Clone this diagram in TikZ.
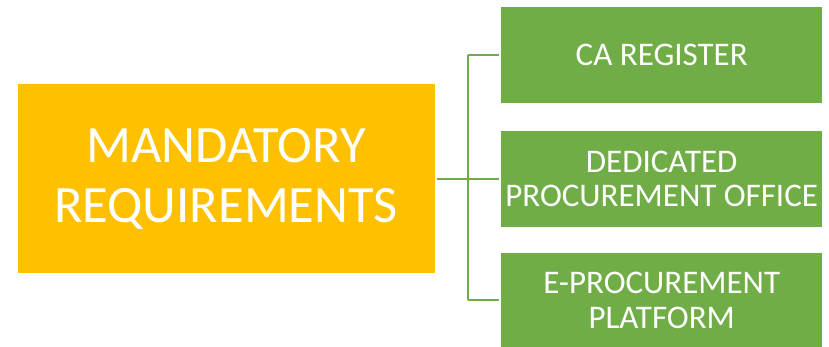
\documentclass[tikz,border=0pt]{standalone}
\usepackage{fontspec}
\setmainfont{Carlito}
\definecolor{orangebox}{HTML}{FFC000}
\definecolor{greenbox}{HTML}{70AD47}
\begin{document}
\begin{tikzpicture}[x=1pt,y=-1pt,
  mainbox/.style={rectangle, fill=orangebox, text=white, inner sep=0pt, align=center,
    minimum width=417pt, minimum height=188.7pt, font=\fontsize{52.5}{60}\selectfont},
  subbox/.style={rectangle, fill=greenbox, text=white, inner sep=0pt, align=center,
    minimum width=321.3pt, minimum height=96pt, font=\fontsize{33}{34.5}\selectfont},
  link/.style={draw=greenbox, line width=2pt}]
\useasboundingbox (0,0) rectangle (829,347);
\node[mainbox] (main) at (226.1,178.7) {MANDATORY\\REQUIREMENTS};
\node[subbox] (ca) at (661.7,55.3) {CA REGISTER};
\node[subbox] (dpo) at (661.7,178.7) {DEDICATED\\PROCUREMENT OFFICE};
\node[subbox, minimum height=93.7pt] (ep) at (661.7,300.2) {E-PROCUREMENT\\PLATFORM};
\coordinate (j1) at (468.3,55.3);
\coordinate (j3) at (468.3,300.2);
\draw[link, shorten <=2pt, shorten >=1.5pt] (main.east) -- (dpo.west);
\draw[link] (j1) -- (j3);
\draw[link, shorten >=1.5pt] (j1) -- (ca.west);
\draw[link, shorten >=1.5pt] (j3) -- (ep.west);
\end{tikzpicture}
\end{document}
